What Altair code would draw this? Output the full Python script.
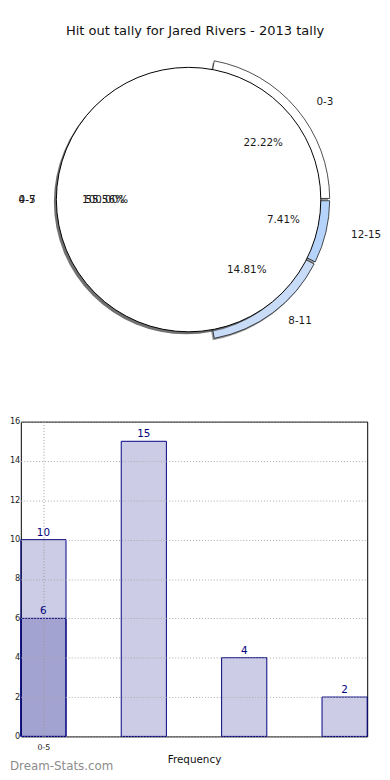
import math
import altair as alt
import pandas as pd

# ---------------- data ----------------
title_text = "Hit out tally for Jared Rivers - 2013 tally"
pie_labels = ["0-3", "4-7", "8-11", "12-15"]
pie_counts = [6, 15, 4, 2]
overlay_labels = ["0-5"]
overlay_counts = [10]
x_tick_labels = ["0-5"]
x_title = "Frequency"
watermark = "Dream-Stats.com"

# ---------------- style ----------------
pie_colors = ["#ffffff", "#ffffff", "#c8dcf8", "#b6d4fb"]
exploded = ["0-3", "8-11", "12-15"]
NAVY = "#000080"
CX, CY, R = 170, 151, 134      # pie centre / radius in panel pixels
RX, RY = 141, 128             # ellipse used for label placement
EXP = 9
PIE_W, PIE_H = 351, 364
BAR_W, BAR_H = 351, 319
BARW = 0.45
SP = 12

total = sum(pie_counts)
ov_total = sum(overlay_counts)

pie_df = pd.DataFrame({"label": pie_labels, "count": pie_counts,
                       "idx": list(range(len(pie_labels)))})
ov_df = pd.DataFrame({"label": overlay_labels, "count": overlay_counts,
                      "idx": list(range(len(overlay_labels)))})


def tscale(tot):
    return alt.Scale(domain=[0, tot], range=[2.5 * math.pi, 0.5 * math.pi])


def stacked(df, tot):
    return (alt.Chart(df)
            .transform_stack(stack="count", groupby=[], as_=["s0", "s1"],
                             sort=[alt.SortField("idx", order="ascending")])
            .transform_calculate(
                mid="(datum.s0 + datum.s1) / 2",
                pct=f"datum.count / {tot}",
                phi=f"2 * PI * ((datum.s0 + datum.s1) / 2) / {tot}",
            )
            .transform_calculate(side="cos(datum.phi)"))


pos = dict(x=alt.value(CX), y=alt.value(CY))
pie_base = stacked(pie_df, total)
ov_base = stacked(ov_df, ov_total)

band_shadow = pie_base.transform_filter(
    alt.FieldOneOfPredicate(field="label", oneOf=exploded)
).mark_arc(radius=R + EXP, radius2=R - 2, fill="#555555", opacity=0.6, padAngle=0.012).encode(
    theta=alt.Theta("s0:Q", scale=tscale(total), stack=None), theta2="s1:Q",
    x=alt.value(CX - 1.5), y=alt.value(CY + 2))

bands = pie_base.transform_filter(
    alt.FieldOneOfPredicate(field="label", oneOf=exploded)
).mark_arc(radius=R + EXP, radius2=R - 2, stroke="black", strokeWidth=0.7, padAngle=0.012).encode(
    theta=alt.Theta("s0:Q", scale=tscale(total), stack=None), theta2="s1:Q",
    color=alt.Color("label:N", scale=alt.Scale(domain=pie_labels, range=pie_colors), legend=None),
    **pos)

shadow = ov_base.mark_arc(radius=R, fill="#4d4d4d", opacity=0.8).encode(
    theta=alt.Theta("s0:Q", scale=tscale(ov_total), stack=None), theta2="s1:Q",
    x=alt.value(CX - 2.5), y=alt.value(CY + 2.5))

disc = ov_base.mark_arc(radius=R, fill="white", stroke="black", strokeWidth=1).encode(
    theta=alt.Theta("s0:Q", scale=tscale(ov_total), stack=None), theta2="s1:Q", **pos)

txt = dict(fontSize=10.5, color="#1a1a1a", baseline="middle")


def polar(base, k_exp, k_plain):
    return base.transform_calculate(
        k=f"indexof({exploded}, datum.label) >= 0 ? {k_exp} : {k_plain}"
    ).transform_calculate(
        rr=f"datum.k * sqrt(pow({RX} * cos(datum.phi), 2) + pow({RY} * sin(datum.phi), 2))",
        ang=f"atan2({RX} * cos(datum.phi), {RY} * sin(datum.phi))",
    )


def labels(base):
    b = polar(base, 1.2, 1.1)
    enc = dict(theta=alt.Theta("ang:Q", scale=None, stack=None),
               radius=alt.Radius("rr:Q", scale=None), **pos)
    right = b.transform_filter("datum.side > 0").mark_text(align="left", **txt).encode(text="label:N", **enc)
    left = b.transform_filter("datum.side <= 0").mark_text(align="right", **txt).encode(text="label:N", **enc)
    return [right, left]


def pcts(base):
    b = polar(base, 0.7, 0.6)
    return b.mark_text(align="center", **txt).encode(
        theta=alt.Theta("ang:Q", scale=None, stack=None),
        radius=alt.Radius("rr:Q", scale=None),
        text=alt.Text("pct:Q", format=".2%"), **pos)


pie_layers = [band_shadow, bands, shadow, disc]
pie_layers += labels(pie_base)
pie_layers += labels(ov_base)
pie_layers += [pcts(pie_base), pcts(ov_base)]

pie = alt.layer(*pie_layers).resolve_scale(theta="independent").properties(
    width=PIE_W, height=PIE_H, view=alt.ViewBackground(stroke=None))

# ---------------- bar chart ----------------
bar_df = pd.DataFrame({
    "pos": list(range(len(pie_counts))) + list(range(len(overlay_counts))),
    "value": pie_counts + overlay_counts,
})

xscale = alt.Scale(domain=[0, len(pie_counts) - 1 + BARW], nice=False, zero=False)
yscale = alt.Scale(domain=[0, 16], nice=False)

x_axis = alt.Axis(
    values=[BARW / 2], labelExpr=f"'{x_tick_labels[0]}'", title=x_title,
    grid=True, gridDash=[1, 2], gridColor="#999999", gridWidth=1,
    ticks=False, domain=False, labelFontSize=8, labelColor="#222222",
    labelPadding=7, titleFontSize=10.5, titleFontWeight="normal",
    titleColor="#111111", titlePadding=3, zindex=1)
y_axis = alt.Axis(
    values=list(range(0, 17, 2)), title=None, grid=True, gridDash=[1, 2],
    gridColor="#aaaaaa", gridWidth=1, ticks=False, domain=False,
    labelFontSize=8.3, labelColor="#222222", labelPadding=1,
    labelOverlap=False, zindex=1)

bb = alt.Chart(bar_df).transform_calculate(
    x0="datum.pos", x1=f"datum.pos + {BARW}", xc=f"datum.pos + {BARW} / 2")

bars = bb.mark_rect(fill=NAVY, fillOpacity=0.2, stroke=NAVY, strokeWidth=1).encode(
    x=alt.X("x0:Q", scale=xscale, axis=x_axis),
    x2="x1:Q",
    y=alt.Y("value:Q", scale=yscale, axis=y_axis),
    y2=alt.datum(0),
)

bar_text = bb.mark_text(baseline="bottom", dy=-2, fontSize=10.5, color=NAVY).encode(
    x=alt.X("xc:Q", scale=xscale, axis=x_axis),
    y=alt.Y("value:Q", scale=yscale, axis=y_axis),
    text="value:Q")

wm = alt.Chart(pd.DataFrame({"t": [watermark]})).mark_text(
    align="left", baseline="middle", fontSize=12, fontWeight="normal", color="#8c8c8c"
).encode(x=alt.value(-11), y=alt.value(349), text="t:N")

barchart = alt.layer(bars, bar_text, wm).properties(
    width=BAR_W, height=BAR_H, view=alt.ViewBackground(stroke="black", strokeWidth=1))

chart = alt.vconcat(pie, barchart, spacing=SP, bounds="flush").properties(
    title=alt.TitleParams(title_text, anchor="middle", fontSize=13.2, fontWeight="normal",
                          color="#111111", offset=12.4),
    padding={"left": 0, "top": 11, "right": 0, "bottom": 0},
).configure(font="DejaVu Sans")

chart.save("out.html", embed_options={"renderer": "svg", "actions": False})
